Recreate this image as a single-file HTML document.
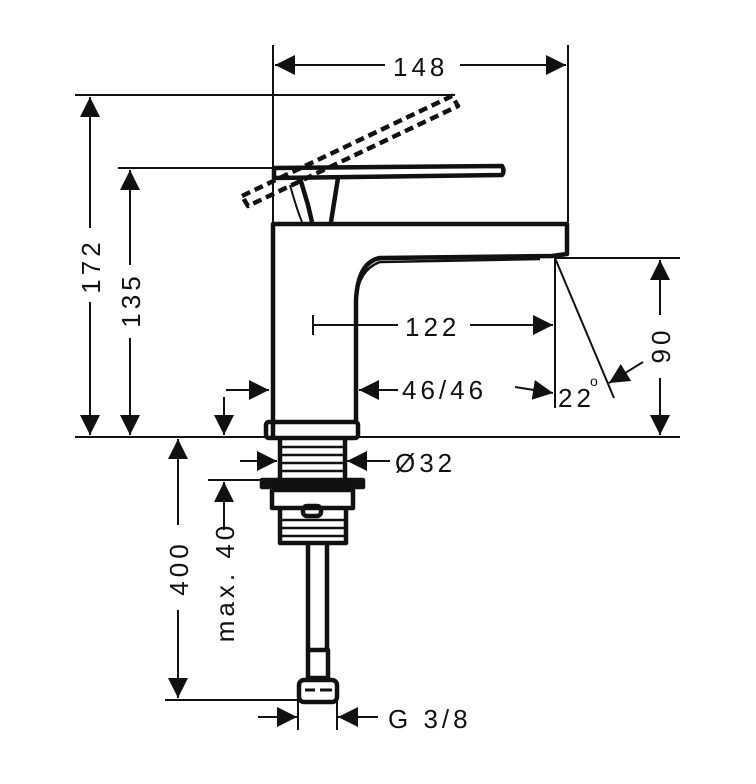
<!DOCTYPE html>
<html><head><meta charset="utf-8"><style>
html,body{margin:0;padding:0;background:#fff}
svg{display:block}
text{font-family:"Liberation Sans",sans-serif;font-size:26px;fill:#111;letter-spacing:4px}
</style></head><body>
<svg width="756" height="784" viewBox="0 0 756 784" xmlns="http://www.w3.org/2000/svg">
<defs>
<marker id="a" markerWidth="22" markerHeight="22" refX="20" refY="10" orient="auto" markerUnits="userSpaceOnUse" viewBox="0 0 22 20">
<path d="M0,0 L20,10 L0,20 Z" fill="#111"/></marker>
</defs>
<g stroke="#111" stroke-width="2" fill="none">
<line x1="273" y1="45" x2="273" y2="222"/>
<line x1="568" y1="45" x2="568" y2="222"/>
<line x1="75" y1="95" x2="455" y2="95"/>
<line x1="118" y1="168" x2="273" y2="168"/>
<line x1="75" y1="437" x2="680" y2="437"/>
<line x1="555" y1="258" x2="680" y2="258"/>
<line x1="555" y1="258" x2="555" y2="408"/>
<line x1="555" y1="258" x2="614" y2="398"/>
<line x1="208" y1="480" x2="262" y2="480"/>
<line x1="165" y1="700" x2="298" y2="700"/>
<line x1="298" y1="700" x2="298" y2="730"/>
<line x1="337" y1="700" x2="337" y2="730"/>
<line x1="385" y1="65" x2="275" y2="65" marker-end="url(#a)"/>
<line x1="460" y1="65" x2="566" y2="65" marker-end="url(#a)"/>
<line x1="90" y1="228" x2="90" y2="97" marker-end="url(#a)"/>
<line x1="90" y1="302" x2="90" y2="435" marker-end="url(#a)"/>
<line x1="130" y1="265" x2="130" y2="170" marker-end="url(#a)"/>
<line x1="130" y1="338" x2="130" y2="435" marker-end="url(#a)"/>
<line x1="313" y1="325" x2="398" y2="325"/>
<line x1="313" y1="315" x2="313" y2="335"/>
<line x1="470" y1="325" x2="553" y2="325" marker-end="url(#a)"/>
<line x1="226" y1="390" x2="269" y2="390" marker-end="url(#a)"/>
<line x1="398" y1="390" x2="359" y2="390" marker-end="url(#a)"/>
<line x1="515" y1="387" x2="553" y2="393" marker-end="url(#a)"/>
<line x1="224" y1="397" x2="224" y2="435" marker-end="url(#a)"/>
<line x1="643" y1="362" x2="609" y2="383" marker-end="url(#a)"/>
<line x1="660" y1="315" x2="660" y2="260" marker-end="url(#a)"/>
<line x1="660" y1="378" x2="660" y2="435" marker-end="url(#a)"/>
<line x1="240" y1="461" x2="277" y2="461" marker-end="url(#a)"/>
<line x1="390" y1="461" x2="347" y2="461" marker-end="url(#a)"/>
<line x1="224" y1="520" x2="224" y2="482" marker-end="url(#a)"/>
<line x1="224" y1="520" x2="224" y2="530"/>
<line x1="178" y1="525" x2="178" y2="439" marker-end="url(#a)"/>
<line x1="178" y1="610" x2="178" y2="698" marker-end="url(#a)"/>
<line x1="258" y1="717" x2="297" y2="717" marker-end="url(#a)"/>
<line x1="378" y1="717" x2="338" y2="717" marker-end="url(#a)"/>
</g>
<g stroke="#111" stroke-width="4.5" fill="none" stroke-linejoin="round">
<path d="M273,437 L273,224 L567,224 L567,254 L552,256 L380,258 Q358,262 356,300 L356,422"/>
<path d="M356,300 Q358,270 380,262 L540,259" stroke-width="2.5"/>
<path d="M274,168 L502,166 Q505,171 502,175 L274,178 Z"/>
<path d="M300,178 L308,205 L312,222"/>
<path d="M338,178 L331,222"/>
<path d="M290,185 Q297,210 302,222" stroke-width="2"/>
<path d="M242,196 L452,96 L458,106 L248,206 Z" stroke-dasharray="9,5"/>
<rect x="266" y="422" width="92" height="16" rx="3"/>
<path d="M280,439 L280,478 M345,439 L345,478"/>
<g stroke-width="2.5"><line x1="280" y1="447" x2="345" y2="447"/><line x1="280" y1="455" x2="345" y2="455"/><line x1="280" y1="463" x2="345" y2="463"/><line x1="280" y1="471" x2="345" y2="471"/></g>
<rect x="262" y="480" width="101" height="7" fill="#111"/>
<path d="M272,490 L353,490 L353,508 L272,508 Z"/>
<rect x="303" y="506" width="18" height="10" rx="4"/>
<path d="M280,508 L280,543 L346,543 L346,508"/>
<g stroke-width="2.5"><line x1="280" y1="520" x2="346" y2="520"/><line x1="280" y1="528" x2="346" y2="528"/><line x1="280" y1="536" x2="346" y2="536"/></g>
<path d="M308,545 L308,650 M327,545 L327,650"/>
<rect x="308" y="650" width="20" height="28"/>
<rect x="299" y="680" width="38" height="22" rx="5"/>
<g stroke-width="3"><line x1="305" y1="690" x2="315" y2="690"/><line x1="320" y1="690" x2="332" y2="690"/></g>
</g>
<g>
<text x="393" y="76">148</text>
<text x="405" y="336">122</text>
<text x="402" y="399">46/46</text>
<text x="558" y="407">22</text>
<text x="590" y="386" style="font-size:14px">o</text>
<text x="395" y="472">Ø32</text>
<text x="388" y="728">G 3/8</text>
<text transform="translate(100,266) rotate(-90)" text-anchor="middle">172</text>
<text transform="translate(140,300) rotate(-90)" text-anchor="middle">135</text>
<text transform="translate(670,345) rotate(-90)" text-anchor="middle">90</text>
<text transform="translate(188,568) rotate(-90)" text-anchor="middle">400</text>
<text transform="translate(234,582) rotate(-90)" text-anchor="middle">max. 40</text>
</g>
</svg>
</body></html>
